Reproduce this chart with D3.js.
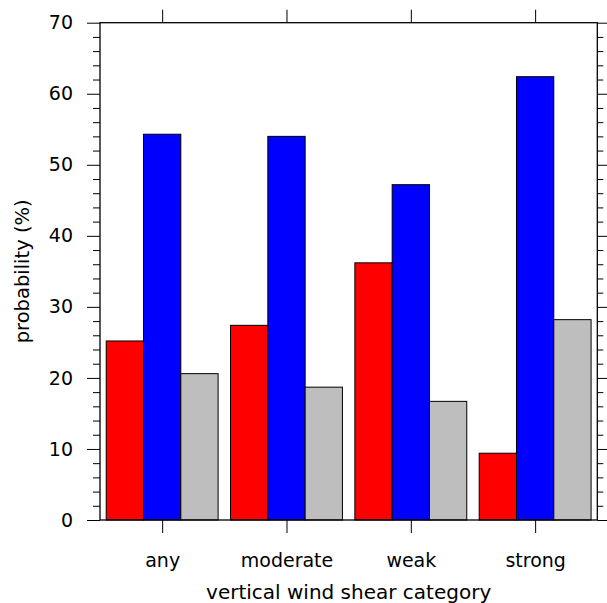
<!DOCTYPE html>
<html>
<head>
<meta charset="utf-8">
<script src="https://cdn.jsdelivr.net/npm/d3@7"></script>
<style>
  body { margin: 0; background: #fff; }
  text { font-family: "DejaVu Sans", sans-serif; fill: #000; }
</style>
</head>
<body>
<div id="chart"></div>
<script>
// categorias y valores (%)
const categories = ["any", "moderate", "weak", "strong"];
const seriesRed  = [25.2, 27.4, 36.2, 9.4];
const seriesBlue = [54.3, 54.0, 47.2, 62.4];
const seriesGray = [20.6, 18.7, 16.7, 28.2];
const seriesColors = ["#ff0000", "#0000ff", "#bebebe"];
const yTicks = [0, 10, 20, 30, 40, 50, 60, 70];

const svgWidth = 607, svgHeight = 603;
const margin = { top: 22.7, right: 9.7, bottom: 83, left: 100 };
const width = svgWidth - margin.left - margin.right;
const height = svgHeight - margin.top - margin.bottom;

const svg = d3.select("#chart")
  .append("svg")
  .attr("width", svgWidth)
  .attr("height", svgHeight);

const g = svg.append("g")
  .attr("transform", `translate(${margin.left},${margin.top})`);

const x = d3.scaleLinear().domain([0.5, 4.5]).range([0, width]);
const y = d3.scaleLinear().domain([0, 70]).range([height, 0]);

// Barras: tres series por categoria, ancho 0.3
const barW = 0.3;
const allSeries = [seriesRed, seriesBlue, seriesGray];
allSeries.forEach((vals, s) => {
  g.selectAll(`rect.s${s}`)
    .data(vals)
    .enter()
    .append("rect")
    .attr("class", `s${s}`)
    .attr("x", (d, i) => x(i + 1 + (s - 1) * barW - barW / 2))
    .attr("width", x(1 + barW) - x(1))
    .attr("y", d => y(d))
    .attr("height", d => y(0) - y(d))
    .attr("fill", seriesColors[s])
    .attr("stroke", "#000")
    .attr("stroke-width", 1);
});

// Ejes (ticks hacia afuera en los cuatro lados)
const minorTicks = d3.range(0, 71, 2).filter(v => v % 10 !== 0);

g.append("g")
  .call(d3.axisLeft(y).tickValues(yTicks).tickSize(13).tickPadding(14).tickFormat(d3.format("d")))
  .call(a => a.select(".domain").remove())
  .call(a => a.selectAll("text").style("font-size", "19px"));
g.append("g")
  .call(d3.axisLeft(y).tickValues(minorTicks).tickSize(7).tickFormat(""))
  .call(a => a.select(".domain").remove());

g.append("g")
  .attr("transform", `translate(${width},0)`)
  .call(d3.axisRight(y).tickValues(yTicks).tickSize(10).tickFormat(""))
  .call(a => a.select(".domain").remove());
g.append("g")
  .attr("transform", `translate(${width},0)`)
  .call(d3.axisRight(y).tickValues(minorTicks).tickSize(6).tickFormat(""))
  .call(a => a.select(".domain").remove());

g.append("g")
  .attr("transform", `translate(0,${height})`)
  .call(d3.axisBottom(x).tickValues([1, 2, 3, 4]).tickSize(13).tickPadding(21)
    .tickFormat(d => categories[d - 1]))
  .call(a => a.select(".domain").remove())
  .call(a => a.selectAll("text").style("font-size", "19px"));

g.append("g")
  .call(d3.axisTop(x).tickValues([1, 2, 3, 4]).tickSize(13).tickFormat(""))
  .call(a => a.select(".domain").remove());

g.selectAll(".tick line").attr("stroke", "#000").attr("stroke-width", 1);

// Marco
g.append("rect")
  .attr("width", width)
  .attr("height", height)
  .attr("fill", "none")
  .attr("stroke", "#000")
  .attr("stroke-width", 1.3);

// Titulos de ejes
svg.append("text")
  .attr("x", margin.left + width / 2)
  .attr("y", 599)
  .attr("text-anchor", "middle")
  .style("font-size", "20px")
  .text("vertical wind shear category");

svg.append("text")
  .attr("transform", `translate(29,${margin.top + height / 2}) rotate(-90)`)
  .attr("text-anchor", "middle")
  .style("font-size", "19.5px")
  .text("probability (%)");
</script>
</body>
</html>
